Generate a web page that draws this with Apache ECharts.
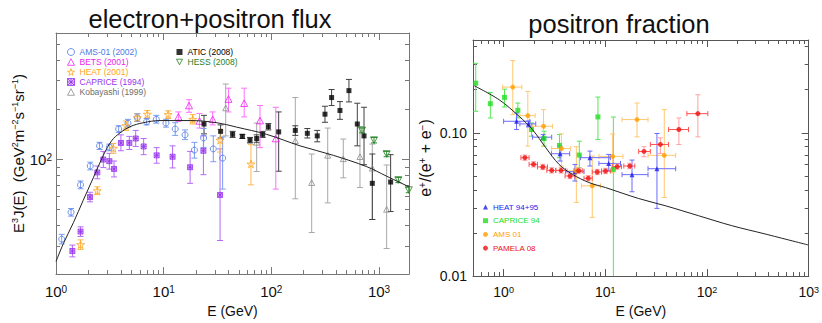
<!DOCTYPE html>
<html>
<head>
<meta charset="utf-8">
<script src="https://cdn.jsdelivr.net/npm/echarts@6/dist/echarts.min.js"></script>
<style>
  html, body { margin: 0; padding: 0; background: #fff; }
  #chart { width: 822px; height: 323px; }
</style>
</head>
<body>
<div id="chart"></div>
<script>
// ---------- electron + positron flux: E^3 J(E) [GeV^2 m^-2 s^-1 sr^-1] ----------
// rows: [E (GeV), value, lower, upper]
const ams01Flux = [
  [1.13, 33.0, 30.9, 35.3], [1.38, 48.0, 45.5, 50.6], [1.69, 70.3, 66.6, 74.2],
  [2.08, 91.4, 86.6, 96.4], [2.54, 121, 115, 127], [3.13, 118.5, 113, 124],
  [3.82, 153, 146, 160], [4.66, 166, 157, 175], [5.69, 179, 170, 189],
  [6.95, 169, 162, 177], [8.55, 175, 166, 185], [10.5, 166, 157, 175],
  [12.8, 153, 140, 167], [15.8, 141, 132, 151], [19.3, 114, 102, 127],
  [23.5, 135, 118, 154], [28.9, 116, 97, 139], [35.3, 102, 66.3, 137]
];
const betsFlux = [
  [13.7, 181, 170, 194], [17.2, 212, 193, 230], [21.5, 171, 155, 190],
  [28.5, 175, 162, 194], [40.0, 232, 194, 270], [56.0, 219, 181, 270],
  [78.5, 172, 118, 212], [110, 134, 66.3, 207]
];
const heatFlux = [
  [1.69, 30.6, 28.6, 32.7], [2.42, 64.8, 61.4, 68.4], [3.41, 117, 109, 125],
  [4.47, 160, 150, 171], [5.69, 179, 170, 189], [7.05, 188, 178, 198],
  [11.0, 187, 177, 197], [18.6, 175, 164, 187], [33.4, 131, 111, 152],
  [64.7, 94, 70.3, 123]
];
const capriceFlux = [
  [1.42, 28.0, 25.8, 30.4], [1.69, 36.7, 34.3, 39.2], [2.07, 59.3, 55.5, 63.4],
  [2.42, 83.6, 76.5, 91.4], [2.75, 100, 89.4, 112], [3.13, 97.8, 87.5, 109],
  [3.46, 87.8, 78.5, 98], [4.01, 126, 113, 141], [4.80, 126, 115, 138],
  [5.50, 134, 120, 150], [6.52, 120, 107, 134], [8.61, 106, 95, 118],
  [12.1, 104, 89, 121], [17.6, 89.8, 71.8, 112], [23.4, 113, 81, 139],
  [33.4, 61.1, 32.4, 116]
];
const kobayashiFlux = [
  [37.7, 205, 139, 286], [73.1, 127, 84.7, 166], [167, 130, 57.9, 237],
  [237, 72.5, 36.2, 108], [334, 106, 54.7, 155], [466, 101, 77.5, 133],
  [666, 104, 67.8, 158], [867, 88.6, 43.4, 124], [1178, 50.0, 29.0, 92.7]
];
const aticFlux = [
  [23.7, 164, 143, 185], [33.8, 148, 135, 162], [43.7, 142, 136, 148],
  [53.8, 138, 134, 142], [63.4, 131, 126, 136], [73.1, 134, 127, 141],
  [83.1, 142, 136, 148], [93.8, 158, 151, 165], [117, 147, 85, 194],
  [167, 150, 140, 160], [216, 144, 135, 154], [267, 139, 128, 150],
  [315, 188, 168, 210], [363, 237, 212, 265], [434, 198, 175, 224],
  [526, 261, 223, 305], [629, 164, 121, 219], [726, 139, 93, 207],
  [867, 71.8, 43.4, 108], [1283, 73.1, 48.5, 107]
];
const hessFlux = [
  [695, 150, 145, 155], [899, 131, 126, 136], [1178, 108, 104, 112],
  [1513, 75.2, 72.5, 78], [1890, 65.4, 63, 68]
];
const fluxModelE = [1.0, 1.17, 1.45, 1.79, 2.22, 2.75, 3.29, 3.93, 4.87, 6.48, 9.25, 17.6, 31.1, 47.6, 90.5, 185, 377, 768, 1178, 1900];
const fluxModel  = [24.2, 31.0, 41.5, 56.7, 77.5, 106, 130, 145, 158, 167, 172, 172, 167, 157, 142, 121, 106, 90.6, 79.3, 68.4];

// ---------- positron fraction e+/(e+ + e-) ----------
// rows: [E, fraction, E low, E high, fraction low, fraction high]
const heat9495Frac = [
  [1.34, 0.1205, 1.00, 1.81, 0.1055, 0.1377], [1.76, 0.1155, 1.445, 2.07, 0.110, 0.121],
  [2.45, 0.0933, 1.92, 2.97, 0.0895, 0.0973], [3.59, 0.0715, 2.95, 4.46, 0.0636, 0.0808],
  [5.03, 0.0536, 4.08, 6.17, 0.0461, 0.0602], [7.06, 0.0671, 5.71, 11.2, 0.0587, 0.0746],
  [10.8, 0.0612, 8.65, 14.1, 0.0542, 0.0707], [18.3, 0.0511, 14.6, 26.3, 0.0388, 0.0646],
  [32.2, 0.0562, 26.3, 49.2, 0.0297, 0.0990]
];
// rows: [E, fraction, fraction low, fraction high]
const caprice94Frac = [
  [0.532, 0.2223, 0.1414, 0.306], [0.740, 0.1599, 0.127, 0.1916], [1.02, 0.1769, 0.1516, 0.202],
  [1.38, 0.1437, 0.127, 0.1615], [1.88, 0.1055, 0.0948, 0.1173], [2.50, 0.0913, 0.0808, 0.1027],
  [3.54, 0.0817, 0.0671, 0.0974], [5.55, 0.0700, 0.0571, 0.0875], [8.46, 0.1292, 0.0899, 0.1778],
  [12.0, 0.0556, 0.001, 0.129]
];
const ams01Frac = [
  [1.23, 0.2087, 0.978, 1.51, 0.134, 0.3196], [1.73, 0.1319, 1.445, 2.04, 0.0808, 0.1948],
  [2.47, 0.1112, 1.92, 3.02, 0.0808, 0.1452], [3.70, 0.0778, 2.97, 4.57, 0.0587, 0.0984],
  [5.19, 0.0542, 4.24, 6.17, 0.0327, 0.080], [7.44, 0.0427, 5.85, 8.98, 0.0257, 0.0689],
  [11.8, 0.0685, 8.65, 14.9, 0.0527, 0.0984], [20.5, 0.1238, 14.6, 26.3, 0.0938, 0.1615],
  [38.0, 0.0697, 26.3, 49.2, 0.0354, 0.1452]
];
const pamelaFrac = [
  [1.62, 0.0671, 1.48, 1.78, 0.0643, 0.0700], [1.97, 0.0603, 1.78, 2.15, 0.0578, 0.0629],
  [2.43, 0.0578, 2.15, 2.70, 0.0554, 0.0603], [2.97, 0.0547, 2.66, 3.26, 0.0524, 0.0571],
  [3.67, 0.0547, 3.26, 4.08, 0.0524, 0.0571], [4.50, 0.0500, 4.02, 5.03, 0.0479, 0.0522],
  [5.47, 0.0544, 4.92, 5.94, 0.0521, 0.0568], [6.80, 0.0482, 6.17, 7.44, 0.0462, 0.0503],
  [8.33, 0.0533, 7.44, 9.19, 0.0511, 0.0556], [10.05, 0.0542, 9.19, 11.2, 0.0519, 0.0566],
  [13.1, 0.0581, 11.7, 14.4, 0.0557, 0.0606], [17.4, 0.0587, 15.2, 19.5, 0.0562, 0.0613],
  [24.0, 0.0742, 21.3, 27.7, 0.0681, 0.080], [34.8, 0.0830, 27.7, 41.9, 0.0719, 0.0923],
  [52.9, 0.1055, 41.9, 65.8, 0.083, 0.127], [81.3, 0.1362, 63.4, 101.8, 0.0938, 0.1845]
];
const fracModelE = [0.516, 0.907, 1.42, 1.92, 2.60, 3.51, 4.74, 6.90, 10.05, 21.3, 38.9, 82.5, 175, 371, 986];
const fracModel  = [0.213, 0.170, 0.1305, 0.1055, 0.0787, 0.0602, 0.0514, 0.0450, 0.0415, 0.0348, 0.0310, 0.0264, 0.0225, 0.0197, 0.0165];

// ---------- axis ticks ----------
const fluxXMajor = [1, 10, 100, 1000];
const fluxXMinor = [2, 3, 4, 5, 6, 7, 8, 9, 20, 30, 40, 50, 60, 70, 80, 90, 200, 300, 400, 500, 600, 700, 800, 900];
const fluxYMajor = [100];
const fluxYMinor = [30, 40, 50, 60, 70, 80, 90, 200, 300, 400, 500];
const fracXMajor = [1, 10, 100, 1000];
const fracXMinor = [0.6, 0.7, 0.8, 0.9, 2, 3, 4, 5, 6, 7, 8, 9, 20, 30, 40, 50, 60, 70, 80, 90, 200, 300, 400, 500, 600, 700, 800, 900];
const fracYMajor = [0.01, 0.1];
const fracYMinor = [0.02, 0.03, 0.04, 0.05, 0.06, 0.07, 0.08, 0.09, 0.2, 0.3, 0.4];
const fracYLabels = ['0.01', '0.10'];

const FONT = '"Liberation Sans", Arial, Helvetica, sans-serif';
const INK = '#111';

function pairs(xs, ys) { return xs.map((x, i) => [x, ys[i]]); }
function pts(rows) { return rows.map(r => [r[0], r[1]]); }
function isPow10(v) { const n = Math.log10(v); return Math.abs(n - Math.round(n)) < 1e-3; }

// power-of-ten label with raised exponent
function powLabel(size, supSize, margin) {
  return {
    show: true, margin: margin,
    formatter: v => isPow10(v) ? '{b|10}{s|' + Math.round(Math.log10(v)) + '}' : '',
    rich: {
      b: { fontSize: size, fontFamily: FONT, color: INK },
      s: { fontSize: supSize, fontFamily: FONT, color: INK, verticalAlign: 'top' }
    }
  };
}

// frame sides of one dimension: major + minor inward ticks on both sides
function logAxes(dim, grid, min, max, majors, minors, frame, label, nameCfg) {
  const sides = dim === 'x' ? ['bottom', 'top'] : ['left', 'right'];
  const out = [];
  sides.forEach((pos, i) => {
    out.push(Object.assign({
      gridIndex: grid, type: 'log', logBase: 10, min: min, max: max, position: pos,
      axisLine: { show: true, onZero: false, lineStyle: { color: frame, width: 1 } },
      axisTick: { show: true, inside: true, length: 7, customValues: majors, lineStyle: { color: frame } },
      axisLabel: i === 0 ? label : { show: false },
      splitLine: { show: false }
    }, i === 0 ? nameCfg : {}));
    out.push({
      gridIndex: grid, type: 'log', logBase: 10, min: min, max: max, position: pos,
      axisLine: { show: false },
      axisTick: { show: true, inside: true, length: 4, customValues: minors, lineStyle: { color: frame } },
      axisLabel: { show: false },
      splitLine: { show: false }
    });
  });
  return out;
}

// vertical error bar with caps
function vErr(cap) {
  return function (params, api) {
    const x = api.value(0);
    const a = api.coord([x, api.value(2)]);
    const b = api.coord([x, api.value(3)]);
    const st = { stroke: api.visual('color'), lineWidth: 1 };
    return { type: 'group', children: [
      { type: 'line', shape: { x1: a[0], y1: a[1], x2: b[0], y2: b[1] }, style: st },
      { type: 'line', shape: { x1: a[0] - cap, y1: a[1], x2: a[0] + cap, y2: a[1] }, style: st },
      { type: 'line', shape: { x1: b[0] - cap, y1: b[1], x2: b[0] + cap, y2: b[1] }, style: st }
    ] };
  };
}

// horizontal + vertical error bars with caps
function xyErr(hColor, vColor, cap) {
  return function (params, api) {
    const e = api.value(0), f = api.value(1);
    const L = api.coord([api.value(2), f]), R = api.coord([api.value(3), f]);
    const B = api.coord([e, api.value(4)]), T = api.coord([e, api.value(5)]);
    const hs = { stroke: hColor, lineWidth: 1 }, vs = { stroke: vColor, lineWidth: 1 };
    return { type: 'group', children: [
      { type: 'line', shape: { x1: L[0], y1: L[1], x2: R[0], y2: R[1] }, style: hs },
      { type: 'line', shape: { x1: L[0], y1: L[1] - cap, x2: L[0], y2: L[1] + cap }, style: hs },
      { type: 'line', shape: { x1: R[0], y1: R[1] - cap, x2: R[0], y2: R[1] + cap }, style: hs },
      { type: 'line', shape: { x1: B[0], y1: B[1], x2: T[0], y2: T[1] }, style: vs },
      { type: 'line', shape: { x1: B[0] - cap, y1: B[1], x2: B[0] + cap, y2: B[1] }, style: vs },
      { type: 'line', shape: { x1: T[0] - cap, y1: T[1], x2: T[0] + cap, y2: T[1] }, style: vs }
    ] };
  };
}

function errSeries(rows, axis, color, render) {
  return { type: 'custom', xAxisIndex: axis, yAxisIndex: axis, clip: true, silent: true,
    itemStyle: { color: color }, renderItem: render, data: rows, z: 2 };
}
function markSeries(name, rows, axis, symbol, size, itemStyle, extra) {
  return Object.assign({ type: 'scatter', name: name, xAxisIndex: axis, yAxisIndex: axis,
    symbol: symbol, symbolSize: size, symbolKeepAspect: true, itemStyle: itemStyle,
    data: pts(rows), z: 3, silent: true }, extra || {});
}

// outline marker shapes
const RING = 'path://M50,4 A46,46 0 1 1 49.99,4 Z';
const TRI_UP = 'path://M50,6 L96,92 L4,92 Z';
const TRI_DOWN = 'path://M4,8 L96,8 L50,94 Z';
const STAR = 'path://M50,2 L61,38 98,38 68,60 79,96 50,74 21,96 32,60 2,38 39,38 Z';
const BOXSTAR = 'path://M0,0 H10 V10 H0 Z M0,0 L10,10 M10,0 L0,10 M5,0 V10 M0,5 H10';

const C = {
  ams: '#4d78e6', amsBar: '#7a9cf0',
  bets: '#ee22ee', betsBar: '#ff70ff',
  heat: '#ffa31a', heatBar: '#ffb84d',
  cap: '#9933ee', capBar: '#b36bf5',
  kob: '#8c8c8c', kobBar: '#a8a8a8',
  atic: '#000000', aticBar: '#404040',
  hess: '#1f7f1f', hessBar: '#2e8b2e',
  heatR: '#1c1cee', heatRBar: '#6b6bff',
  capR: '#22dd22', capRBar: '#55e855',
  amsR: '#ffa000', amsRBar: '#ffc870',
  pam: '#ee1111', pamH: '#ff5050', pamV: '#ffa0a0'
};

const outline = c => ({ color: 'rgba(255,255,255,0)', borderColor: c, borderWidth: 1 });
const boxStyle = { color: 'rgba(170,110,245,0.45)', borderColor: C.cap, borderWidth: 1 };

const fluxYName = '{n|E}{s|3}{n|J(E)  (GeV}{s|2}{n|m}{s|−2}{n|s}{s|−1}{n|sr}{s|−1}{n|)}';
const fracYName = '{n|e}{s|+}{n|/(e}{s|+}{n| + e}{s|−}{n|)}';
const nameRich = {
  n: { fontSize: 15, fontFamily: FONT, color: INK },
  s: { fontSize: 9, fontFamily: FONT, color: INK, verticalAlign: 'top' }
};

const xAxes = [].concat(
  logAxes('x', 0, 1, 1900, fluxXMajor, fluxXMinor, '#777', powLabel(15, 10, 10),
    { name: 'E (GeV)', nameLocation: 'middle', nameGap: 22,
      nameTextStyle: { fontSize: 14, fontFamily: FONT, color: INK } }),
  logAxes('x', 1, 0.5, 1000, fracXMajor, fracXMinor, '#555', powLabel(14, 9, 9),
    { name: 'E (GeV)', nameLocation: 'middle', nameGap: 24,
      nameTextStyle: { fontSize: 14, fontFamily: FONT, color: INK } })
);
const yAxes = [].concat(
  logAxes('y', 0, 20.3, 582, fluxYMajor, fluxYMinor, '#777', powLabel(15, 10, 4),
    { name: fluxYName, nameLocation: 'middle', nameGap: 30, nameRotate: 90,
      nameTextStyle: { rich: nameRich } }),
  logAxes('y', 1, 0.01, 0.445, fracYMajor, fracYMinor, '#555',
    { show: true, margin: 6, fontSize: 14, fontFamily: FONT, color: INK,
      formatter: v => isPow10(v) ? fracYLabels[Math.round(Math.log10(v)) + 2] : '' },
    { name: fracYName, nameLocation: 'middle', nameGap: 40, nameRotate: 90,
      nameTextStyle: { rich: { n: { fontSize: 16, fontFamily: FONT, color: INK },
                               s: { fontSize: 10, fontFamily: FONT, color: INK, verticalAlign: 'top' } } } })
);

const series = [
  // flux panel
  { type: 'line', name: 'flux model', xAxisIndex: 0, yAxisIndex: 0, data: pairs(fluxModelE, fluxModel),
    showSymbol: false, smooth: 0.35, lineStyle: { color: '#222', width: 1 }, z: 4, silent: true },
  errSeries(kobayashiFlux, 0, C.kobBar, vErr(3)),
  errSeries(aticFlux, 0, C.aticBar, vErr(3)),
  errSeries(hessFlux, 0, C.hessBar, vErr(3)),
  errSeries(betsFlux, 0, C.betsBar, vErr(3)),
  errSeries(capriceFlux, 0, C.capBar, vErr(3)),
  errSeries(heatFlux, 0, C.heatBar, vErr(3)),
  errSeries(ams01Flux, 0, C.amsBar, vErr(3)),
  markSeries('AMS-01 (2002)', ams01Flux, 0, RING, 6, outline(C.ams)),
  markSeries('BETS (2001)', betsFlux, 0, TRI_UP, 7, outline(C.bets)),
  markSeries('HEAT (2001)', heatFlux, 0, STAR, 8, outline(C.heat)),
  markSeries('CAPRICE (1994)', capriceFlux, 0, BOXSTAR, 5, boxStyle),
  markSeries('Kobayashi (1999)', kobayashiFlux, 0, TRI_UP, 6, outline(C.kob)),
  markSeries('ATIC (2008)', aticFlux, 0, 'rect', 5, { color: C.atic }),
  markSeries('HESS (2008)', hessFlux, 0, TRI_DOWN, 7, outline(C.hess)),

  // positron fraction panel
  { type: 'line', name: 'fraction model', xAxisIndex: 4, yAxisIndex: 4, data: pairs(fracModelE, fracModel),
    showSymbol: false, smooth: 0.35, lineStyle: { color: '#222', width: 1 }, z: 4, silent: true },
  errSeries(caprice94Frac, 4, C.capRBar, vErr(2.5)),
  errSeries(ams01Frac, 4, C.amsRBar, xyErr(C.amsRBar, C.amsRBar, 2.5)),
  errSeries(heat9495Frac, 4, C.heatRBar, xyErr(C.heatRBar, C.heatRBar, 2.5)),
  errSeries(pamelaFrac, 4, C.pamH, xyErr(C.pamH, C.pamV, 2.5)),
  markSeries('HEAT 94+95', heat9495Frac, 4, 'triangle', 5, { color: C.heatR }),
  markSeries('CAPRICE 94', caprice94Frac, 4, 'rect', 5, { color: C.capR }),
  markSeries('AMS 01', ams01Frac, 4, 'circle', 5, { color: C.amsR }),
  markSeries('PAMELA 08', pamelaFrac, 4, 'circle', 5, { color: C.pam })
];

const legendBase = { orient: 'vertical', padding: 0, selectedMode: false };
const fluxLegendText = { fontSize: 8.5, fontFamily: FONT, lineHeight: 10 };
const legendItem = (name, color, icon, style) =>
  ({ name: name, icon: icon, itemStyle: style, textStyle: { color: color } });

const option = {
  animation: false,
  backgroundColor: '#fff',
  grid: [
    { left: 56, top: 33, width: 353, height: 250, show: false },
    { left: 473, top: 40, width: 338, height: 237, show: false }
  ],
  xAxis: xAxes,
  yAxis: yAxes,
  legend: [
    Object.assign({}, legendBase, { left: 67, top: 47, itemWidth: 7, itemHeight: 7, itemGap: 0,
      textStyle: fluxLegendText,
      data: [legendItem('AMS-01 (2002)', C.ams, RING, outline(C.ams)),
             legendItem('BETS (2001)', C.bets, TRI_UP, outline(C.bets)),
             legendItem('HEAT (2001)', C.heat, STAR, outline(C.heat)),
             legendItem('CAPRICE (1994)', C.cap, BOXSTAR, boxStyle),
             legendItem('Kobayashi (1999)', '#6e6e6e', TRI_UP, outline(C.kob))] }),
    Object.assign({}, legendBase, { left: 176, top: 47, itemWidth: 6, itemHeight: 6, itemGap: 0,
      textStyle: fluxLegendText,
      data: [legendItem('ATIC (2008)', '#000', 'rect', { color: '#000' }),
             legendItem('HESS (2008)', C.hess, TRI_DOWN, outline(C.hess))] }),
    Object.assign({}, legendBase, { left: 483, top: 202.5, itemWidth: 5, itemHeight: 5, itemGap: 4.7,
      textStyle: { fontSize: 8, fontFamily: FONT, lineHeight: 9 },
      data: [legendItem('HEAT 94+95', C.heatR, 'triangle', { color: C.heatR }),
             legendItem('CAPRICE 94', C.capR, 'rect', { color: C.capR }),
             legendItem('AMS 01', C.amsR, 'circle', { color: C.amsR }),
             legendItem('PAMELA 08', C.pam, 'circle', { color: C.pam })] })
  ],
  graphic: [
    { type: 'text', x: 210, y: 19, style: { text: 'electron+positron flux', fontSize: 25.5,
      fontFamily: FONT, fill: INK, textAlign: 'center', textVerticalAlign: 'middle' } },
    { type: 'text', x: 619, y: 24, style: { text: 'positron fraction', fontSize: 25.5,
      fontFamily: FONT, fill: INK, textAlign: 'center', textVerticalAlign: 'middle' } }
  ],
  series: series
};

const chart = echarts.init(document.getElementById('chart'), null, { renderer: 'svg' });
chart.setOption(option);
</script>
</body>
</html>
